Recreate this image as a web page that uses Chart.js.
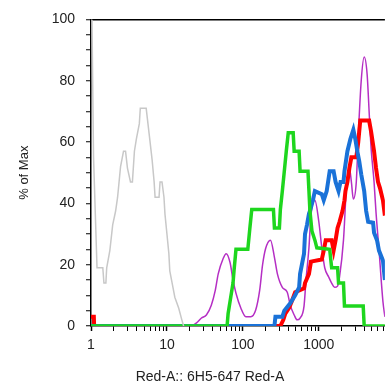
<!DOCTYPE html>
<html>
<head>
<meta charset="utf-8">
<script src="https://cdn.jsdelivr.net/npm/chart.js@4.4.1/dist/chart.umd.min.js"></script>
<style>
html,body{margin:0;padding:0;background:#fff;overflow:hidden;}
</style>
</head>
<body>
<canvas id="histChart" width="389" height="387"></canvas>
<script>
// axis range (Red-A intensity, log) and % of max
var xMin = 1;
var xMax = 7416;
var yTicksMajor = [0, 20, 40, 60, 80, 100];

// gray - unstained
var grayX = [1.03, 1.08, 1.2, 1.43, 1.48, 1.57, 1.61, 1.77, 1.93, 2.11, 2.24, 2.45, 2.68, 2.85, 3.02, 3.31, 3.51, 3.73, 3.96, 4.33, 4.46, 5.33, 5.84, 6.39, 6.78, 6.98, 7.87, 8.11, 8.61, 9.14, 9.42, 10, 10.6, 10.9, 12, 12.7, 14.3, 15.7, 16.6];
var grayY = [100, 55, 19, 19, 14, 14, 19, 24.6, 33, 37.5, 42, 52, 57, 57, 51.5, 47, 47, 57, 61, 66, 71, 71, 62.5, 54, 47, 42, 42, 47, 47, 42, 36.5, 30, 23.6, 18, 12.6, 9.4, 5.8, 2, 0];

// green
var greenX = [1, 61.98, 63.86, 65.79, 69.85, 74.16, 76.4, 81.11, 116.1, 123.3, 130.9, 252.6, 260.3, 302.4, 311.6, 330.7, 351.2, 372.8, 395.8, 459.5, 473.5, 550, 566.5, 719.7, 741.6, 764, 811.1, 887.3, 941.9, 1390, 1475, 1765, 1819, 2112, 2176, 3841, 3958, 7416];
var greenY = [0, 0, 4, 6, 10, 14, 18, 25, 25, 31.7, 38, 38, 32, 32, 38, 44, 50.5, 57, 63, 63, 57, 57, 50.5, 50.5, 44, 37.5, 31, 28, 25.5, 25, 19, 19, 14, 14, 6.5, 6.5, 0, 0];

// blue
var blueX = [1, 260.3, 268.3, 330.7, 351.2, 420.2, 487.9, 550, 566.5, 638.6, 657.9, 698.5, 741.6, 764, 835.8, 887.3, 1094, 1161, 1270, 1390, 1566, 1663, 1819, 1931, 2112, 2176, 2380, 2603, 2848, 3023, 3210, 3408, 3617, 3958, 4202, 4461, 5180, 5337, 5837, 6197, 6985, 7416];
var blueY = [0, 0, 3, 3, 5, 7.4, 10, 12.6, 17, 23.6, 30, 33, 36.6, 37.5, 41, 44, 43, 41, 44, 50.5, 50.5, 47, 44, 47, 47, 50.5, 57, 61, 64, 61, 57, 53.7, 49.5, 44, 37.5, 34, 33.7, 30.4, 28, 24.6, 21.4, 15];

// red
var redX = [1, 1.09, 1.1, 311.6, 340.8, 361.7, 407.8, 446.1, 487.9, 638.6, 657.9, 741.6, 787.3, 1094, 1161, 1233, 1475, 1566, 1663, 1765, 1874, 2050, 2176, 2242, 2380, 2526, 2683, 3115, 3307, 3512, 4595, 4879, 5337, 5665, 6015, 6386, 6985, 7416];
var redY = [3, 3, 0, 0, 2, 4, 6, 8.4, 11, 12.3, 14, 17, 21, 21.7, 24.6, 28, 28, 24.6, 28, 32, 34, 37.5, 41, 44, 47, 51.5, 55, 55, 60, 67, 67, 63.4, 57, 51.5, 47, 45, 41, 36];

// purple
var purpleX = [21.12, 24.52, 28.48, 33.07, 38.4, 43.29, 47.35, 55, 60.15, 67.79, 74.16, 81.11, 94.19, 109.4, 127, 147.5, 166.3, 181.8, 198.9, 231, 260.3, 284.8, 330.7, 384.1, 420.2, 473.5, 518, 566.5, 638.6, 677.9, 741.6, 787.3, 887.3, 1000, 1094, 1196, 1349, 1475, 1614, 1765, 1874, 2112, 2310, 2526, 2683, 2848, 3115, 3307, 3617, 3958, 4329, 4595, 4879, 5337, 5665, 6197, 6985, 7416];
var purpleY = [0, 1, 2.6, 3.6, 6.8, 11.6, 17, 22, 23.6, 20.7, 15, 10.7, 5.8, 3, 3, 5.2, 11.6, 20, 25.2, 28, 22.4, 17, 12.6, 11, 6.8, 3.6, 2, 2.6, 6.5, 15, 25.6, 36, 41, 34, 25.6, 19, 16, 14, 12.6, 13, 16, 28, 45, 51.5, 47, 41.4, 47, 62, 80, 87.7, 82, 70, 58, 47, 37, 25, 8, 3];

function pts(xs, ys) {
  return xs.map(function (x, i) { return {x: x, y: ys[i]}; });
}

function isDecade(v) {
  var l = Math.log10(v);
  return Math.abs(l - Math.round(l)) < 1e-6;
}

function isWholeStep(v) {
  var s = v / Math.pow(10, Math.floor(Math.log10(v) + 1e-9));
  return Math.abs(s - Math.round(s)) < 1e-6;
}

Chart.defaults.font.family = '"Liberation Sans", Arial, sans-serif';
Chart.defaults.color = "#222";

new Chart(
document.getElementById("histChart"),
{
type: "line",

data: {
datasets: [
{data: pts(grayX, grayY), borderColor: "#c8c8c8", borderWidth: 1.5},
{data: pts(greenX, greenY), borderColor: "#1ed61e", borderWidth: 3.5},
{data: pts(blueX, blueY), borderColor: "#1a72d8", borderWidth: 4},
{data: pts(redX, redY), borderColor: "#ff0000", borderWidth: 4},
{data: pts(purpleX, purpleY), borderColor: "#b52ec4", borderWidth: 1.5, cubicInterpolationMode: "monotone"}
]
},

options: {
responsive: false,
animation: false,
layout: {padding: {left: 31, top: 17, right: 0, bottom: 0}},
elements: {point: {radius: 0}, line: {tension: 0, fill: false}},
plugins: {
legend: {display: false},
tooltip: {enabled: false},
title: {
display: true,
text: "Red-A:: 6H5-647 Red-A",
position: "bottom",
align: "center",
color: "#222",
font: {size: 14, weight: "normal"},
padding: {top: 0, bottom: 1}
}
},
scales: {
x: {
type: "logarithmic",
min: xMin,
max: xMax,
afterBuildTicks: function (s) {
  s.ticks = s.ticks.filter(function (t) { return isWholeStep(t.value); });
},
afterFit: function (s) { s.height = 43.2; },
border: {display: true, color: "#000", width: 1.5},
grid: {
drawOnChartArea: false,
tickLength: 5,
tickColor: "#000",
tickWidth: function (c) { return c.tick && isDecade(c.tick.value) ? 1.5 : 1; }
},
ticks: {
autoSkip: false,
maxRotation: 0,
padding: 6,
font: {size: 14},
callback: function (v) { return isDecade(v) ? String(Math.round(v)) : ""; }
}
},
y: {
min: 0,
max: 100,
afterFit: function (s) { s.width = 60; },
border: {display: true, color: "#000", width: 1.5},
grid: {
color: function (c) { return c.tick && c.tick.value === 100 ? "#000" : "rgba(0,0,0,0)"; },
lineWidth: 1.5,
tickLength: 5,
tickColor: "#000",
tickWidth: 1
},
ticks: {
stepSize: 5,
autoSkip: false,
padding: 11,
font: {size: 14},
callback: function (v) { return yTicksMajor.indexOf(v) >= 0 ? String(v) : ""; }
},
title: {
display: true,
text: "% of Max",
font: {size: 13},
padding: {top: -14, bottom: 0}
}
}
}
}
}
);
</script>
</body>
</html>
